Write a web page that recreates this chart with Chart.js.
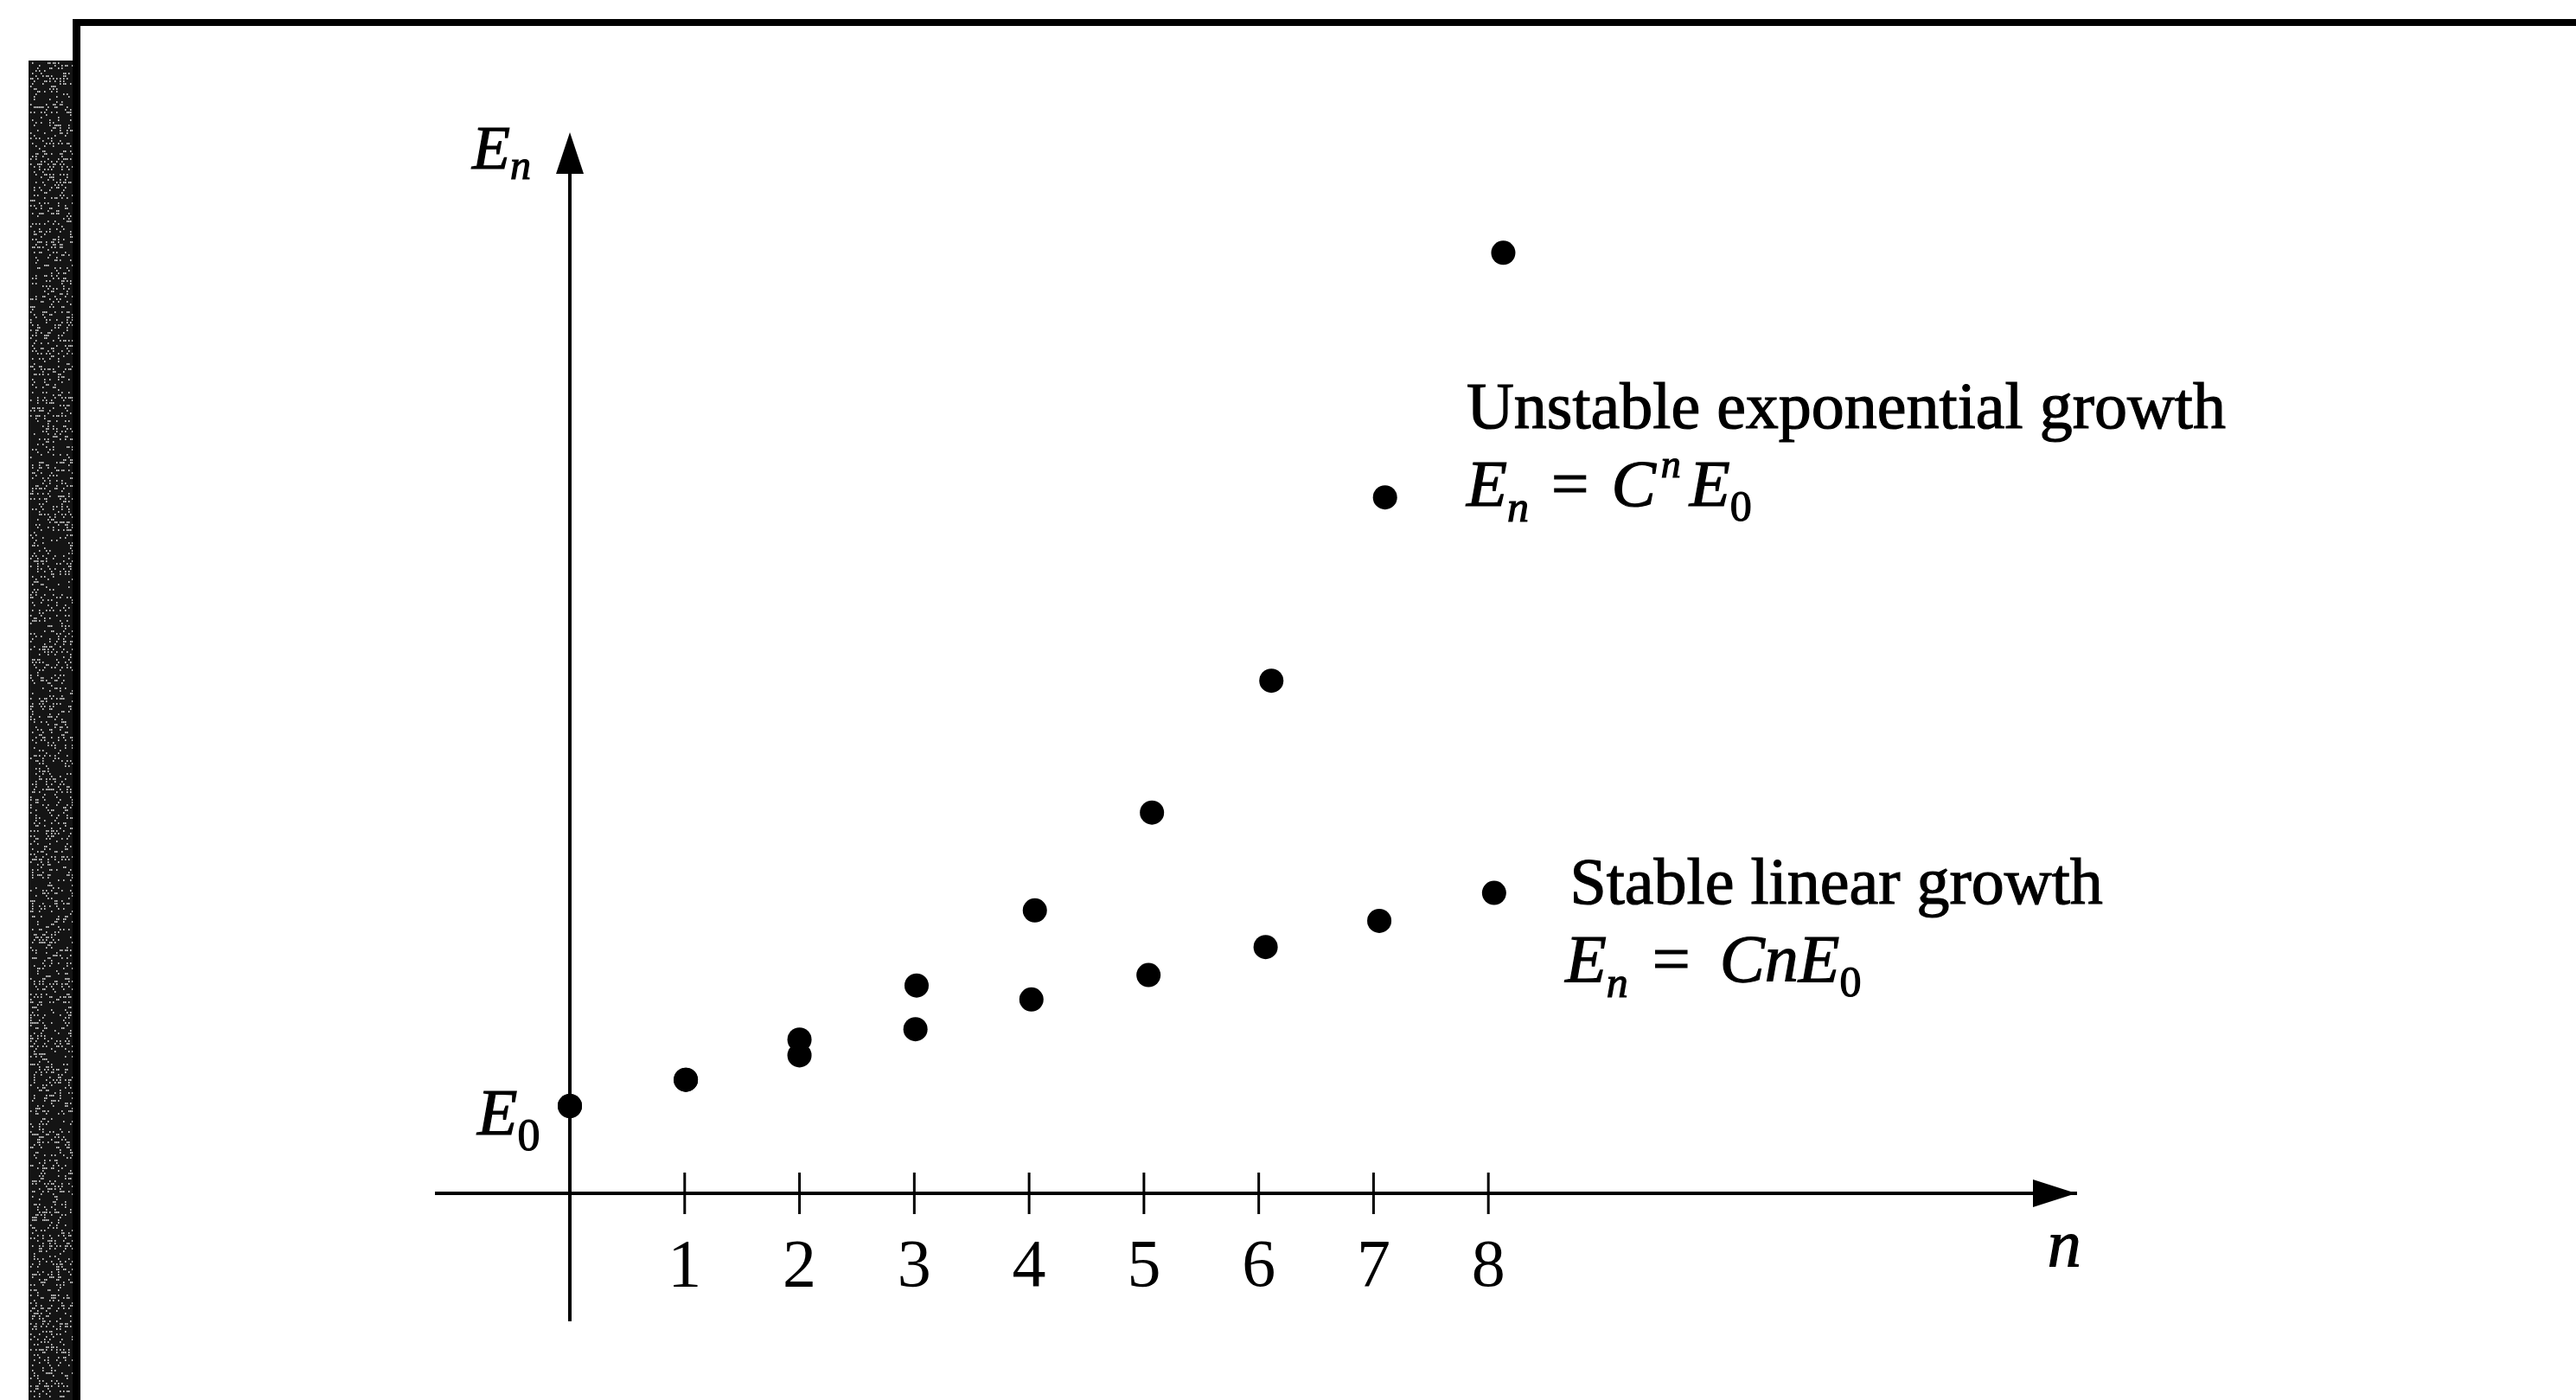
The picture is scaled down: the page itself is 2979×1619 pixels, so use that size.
<!DOCTYPE html>
<html><head><meta charset="utf-8">
<script src="https://cdn.jsdelivr.net/npm/chart.js@4.4.0/dist/chart.umd.min.js"></script>
<style>html,body{margin:0;padding:0;background:#fff;overflow:hidden}canvas{display:block}</style>
</head><body>
<canvas id="c" width="2979" height="1619"></canvas>
<script>
// ---- data (E in units of E0) ----
const expN = [0, 1.01, 2.00, 3.02, 4.05, 5.07, 6.11, 7.10, 8.13];
const expE = [1.00, 1.30, 1.76, 2.38, 3.24, 4.36, 5.87, 7.97, 10.77];
const linN = [0, 1.01, 2.00, 3.01, 4.02, 5.04, 6.06, 7.05, 8.05];
const linE = [1.00, 1.30, 1.58, 1.88, 2.22, 2.50, 2.82, 3.12, 3.44];
const xTicks = [1, 2, 3, 4, 5, 6, 7, 8];
const xTickLabels = ['1', '2', '3', '4', '5', '6', '7', '8'];
const seriesNames = ['Unstable exponential growth', 'Stable linear growth'];
const axisNames = { y: ['E', 'n'], y0: ['E', '0'], x: 'n' };

const SERIF = '"Liberation Serif", "Times New Roman", serif';
function fnt(size, italic) { return (italic ? 'italic ' : '') + size + 'px ' + SERIF; }
function drawRich(ctx, x, y, segs) {
  let cx = x;
  for (const s of segs) {
    cx += s.gap || 0;
    ctx.font = fnt(s.size, s.italic);
    ctx.fillText(s.t, cx, y + (s.dy || 0));
    ctx.strokeText(s.t, cx, y + (s.dy || 0));
    cx += ctx.measureText(s.t).width;
  }
}

const notes = [
  { x: 7.81, y: 8.76, segs: [{ t: seriesNames[0], size: 76 }] },
  { x: 7.81, y: 7.87, segs: [
    { t: 'E', size: 77, italic: true },
    { t: 'n', size: 50, italic: true, dy: 18 },
    { t: '=', size: 77, gap: 26 },
    { t: 'C', size: 77, italic: true, gap: 26 },
    { t: 'n', size: 46, italic: true, dy: -33, gap: 6 },
    { t: 'E', size: 77, italic: true, gap: 10 },
    { t: '0', size: 50, dy: 17 } ] },
  { x: 8.71, y: 3.32, segs: [{ t: seriesNames[1], size: 76 }] },
  { x: 8.67, y: 2.43, segs: [
    { t: 'E', size: 78, italic: true },
    { t: 'n', size: 50, italic: true, dy: 18 },
    { t: '=', size: 78, gap: 28 },
    { t: 'C', size: 78, italic: true, gap: 34 },
    { t: 'n', size: 78, italic: true },
    { t: 'E', size: 78, italic: true },
    { t: '0', size: 50, dy: 17 } ] },
  { x: -0.851, y: 11.73, segs: [
    { t: axisNames.y[0], size: 72, italic: true },
    { t: axisNames.y[1], size: 48, italic: true, dy: 12 } ] },
  { x: -0.806, y: 0.673, segs: [
    { t: axisNames.y0[0], size: 76, italic: true },
    { t: axisNames.y0[1], size: 52, dy: 18 } ] },
  { x: 12.87, y: -0.84, segs: [{ t: axisNames.x, size: 78, italic: true }] }
];

function speck(i, j) {
  const v = Math.sin(i * 12.9898 + j * 78.233) * 43758.5453;
  return v - Math.floor(v);
}

const figurePlugin = {
  id: 'figure',
  beforeDraw(chart) {
    const ctx = chart.ctx, W = chart.width, H = chart.height;
    ctx.save();
    ctx.fillStyle = '#fff';
    ctx.fillRect(0, 0, W, H);
    // scanned page edge (dark strip)
    ctx.fillStyle = '#141414';
    ctx.fillRect(33, 70, 51, H - 70);
    ctx.fillStyle = 'rgba(255,255,255,0.75)';
    for (let i = 0; i < 25; i++) {
      for (let j = 0; j < 515; j++) {
        if (speck(i, j) > 0.8) ctx.fillRect(35 + i * 2, 72 + j * 3, 1.5, 2);
      }
    }
    // frame
    ctx.fillStyle = '#000';
    ctx.fillRect(84, 22, 9, H - 22);
    ctx.fillRect(84, 22, W - 84, 8);
    ctx.restore();
  },
  beforeDatasetsDraw(chart) {
    const ctx = chart.ctx, xs = chart.scales.x, ys = chart.scales.y, ca = chart.chartArea;
    const x0 = xs.getPixelForValue(0), y0 = ys.getPixelForValue(0);
    ctx.save();
    ctx.strokeStyle = '#000';
    ctx.fillStyle = '#000';
    // vertical axis
    ctx.lineWidth = 4;
    ctx.beginPath();
    ctx.moveTo(x0, ca.top + 30);
    ctx.lineTo(x0, ys.getPixelForValue(-1.465));
    ctx.stroke();
    // arrow heads
    ctx.beginPath();
    ctx.moveTo(x0, ca.top);
    ctx.lineTo(x0 - 16, ca.top + 48);
    ctx.lineTo(x0 + 16, ca.top + 48);
    ctx.closePath();
    ctx.fill();
    ctx.beginPath();
    ctx.moveTo(ca.right, y0);
    ctx.lineTo(ca.right - 50, y0 - 16);
    ctx.lineTo(ca.right - 50, y0 + 16);
    ctx.closePath();
    ctx.fill();
    // tick marks crossing the axis
    ctx.lineWidth = 3;
    for (const t of xs.ticks) {
      const px = xs.getPixelForValue(t.value);
      ctx.beginPath();
      ctx.moveTo(px, y0 - 24);
      ctx.lineTo(px, y0 + 24);
      ctx.stroke();
    }
    ctx.restore();
  },
  afterDraw(chart) {
    const ctx = chart.ctx, xs = chart.scales.x, ys = chart.scales.y;
    ctx.save();
    ctx.fillStyle = '#000';
    ctx.strokeStyle = '#000';
    ctx.lineWidth = 1.2;
    ctx.textBaseline = 'alphabetic';
    ctx.textAlign = 'left';
    for (const n of notes) {
      drawRich(ctx, xs.getPixelForValue(n.x), ys.getPixelForValue(n.y), n.segs);
    }
    ctx.restore();
  }
};

const pointStyle = { backgroundColor: '#000', borderColor: '#000', borderWidth: 0, pointRadius: 14, pointHoverRadius: 14, showLine: false };

new Chart(document.getElementById('c'), {
  type: 'scatter',
  data: {
    datasets: [
      Object.assign({ label: seriesNames[0], data: expN.map((n, i) => ({ x: n, y: expE[i] })) }, pointStyle),
      Object.assign({ label: seriesNames[1], data: linN.map((n, i) => ({ x: n, y: linE[i] })) }, pointStyle)
    ]
  },
  options: {
    responsive: false,
    devicePixelRatio: 1,
    animation: false,
    events: [],
    layout: { padding: { left: 505, right: 578, top: 153, bottom: 0 } },
    plugins: { legend: { display: false }, tooltip: { enabled: false } },
    scales: {
      x: {
        type: 'linear', position: 'bottom', min: -1.16, max: 13.12,
        afterBuildTicks: s => { s.ticks = xTicks.map(v => ({ value: v })); },
        afterFit: s => { s.height = 239; },
        grid: { display: true, drawOnChartArea: false, drawTicks: false },
        border: { display: true, color: '#000', width: 4 },
        ticks: {
          color: '#000', font: { family: SERIF, size: 78 }, padding: 40,
          maxRotation: 0, autoSkip: false,
          callback: (v, i) => xTickLabels[i] ?? ''
        }
      },
      y: { type: 'linear', display: false, min: 0, max: 12.15 }
    }
  },
  plugins: [figurePlugin]
});
</script>
</body></html>
